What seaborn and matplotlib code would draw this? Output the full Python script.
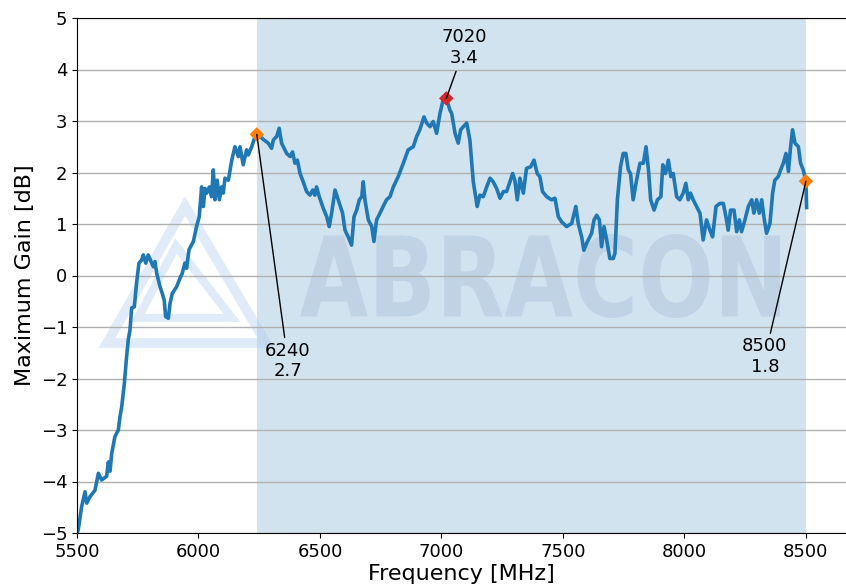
import matplotlib
matplotlib.use("Agg")
import matplotlib.pyplot as plt
import numpy as np
import seaborn as sns
from matplotlib.font_manager import FontProperties
from matplotlib.patches import PathPatch, Polygon
from matplotlib.textpath import TextPath
from matplotlib.transforms import Affine2D

freq_mhz = [
    5500, 5505, 5519, 5533, 5540, 5553, 5574, 5588, 5601, 5622, 5629, 5636, 5643,
    5656, 5670, 5677, 5684, 5695, 5704, 5711, 5718, 5725, 5736, 5745, 5755, 5766,
    5773, 5783, 5793, 5805, 5814, 5821, 5828, 5842, 5851, 5859, 5865, 5876, 5883,
    5892, 5910, 5924, 5933, 5944, 5951, 5961, 5979, 5992, 6003, 6013, 6020, 6027,
    6034, 6045, 6054, 6061, 6068, 6077, 6086, 6095, 6102, 6109, 6123, 6137, 6150,
    6164, 6171, 6184, 6198, 6205, 6219, 6233, 6240, 6253, 6270, 6287, 6301, 6308,
    6322, 6332, 6342, 6363, 6377, 6387, 6397, 6407, 6418, 6431, 6445, 6459, 6470,
    6479, 6486, 6497, 6514, 6528, 6538, 6548, 6562, 6571, 6582, 6593, 6603, 6616,
    6630, 6640, 6651, 6662, 6672, 6678, 6685, 6699, 6713, 6722, 6733, 6747, 6760,
    6774, 6788, 6802, 6822, 6843, 6863, 6884, 6898, 6911, 6928, 6939, 6953, 6966,
    6980, 6994, 7007, 7020, 7035, 7042, 7056, 7069, 7079, 7090, 7104, 7117, 7131,
    7147, 7158, 7172, 7186, 7200, 7213, 7227, 7241, 7255, 7268, 7282, 7293, 7302,
    7312, 7323, 7337, 7350, 7367, 7381, 7394, 7405, 7416, 7433, 7453, 7467, 7481,
    7495, 7515, 7536, 7553, 7563, 7577, 7586, 7597, 7618, 7628, 7639, 7650, 7659,
    7669, 7680, 7693, 7707, 7714, 7724, 7737, 7748, 7759, 7769, 7778, 7789, 7803,
    7817, 7831, 7842, 7852, 7861, 7875, 7889, 7903, 7911, 7922, 7934, 7944, 7954,
    7968, 7981, 7995, 8006, 8016, 8025, 8036, 8050, 8064, 8077, 8091, 8105, 8116,
    8130, 8146, 8160, 8171, 8180, 8190, 8204, 8215, 8226, 8235, 8249, 8263, 8277,
    8286, 8297, 8308, 8318, 8327, 8338, 8352, 8363, 8372, 8386, 8396, 8407, 8418,
    8428, 8437, 8445, 8455, 8469, 8478, 8489, 8500, 8503,
]
gain_db = [
    -5.00, -4.94, -4.49, -4.20, -4.42, -4.30, -4.17, -3.84, -3.97, -3.90, -3.62, -3.80, -3.45,
    -3.13, -3.00, -2.74, -2.55, -2.09, -1.58, -1.25, -1.06, -0.63, -0.61, -0.15, 0.24, 0.30,
    0.40, 0.24, 0.40, 0.27, 0.17, 0.27, 0.04, -0.22, -0.35, -0.48, -0.80, -0.83, -0.54,
    -0.35, -0.22, -0.05, 0.04, 0.24, 0.14, 0.50, 0.66, 0.95, 1.14, 1.72, 1.34, 1.69,
    1.60, 1.72, 1.53, 2.05, 1.47, 1.85, 1.47, 1.72, 1.60, 1.89, 1.85, 2.24, 2.50,
    2.31, 2.50, 2.15, 2.44, 2.34, 2.50, 2.70, 2.74, 2.70, 2.63, 2.57, 2.47, 2.63,
    2.70, 2.86, 2.57, 2.37, 2.31, 2.40, 2.18, 2.24, 1.98, 1.82, 1.63, 1.56, 1.66,
    1.56, 1.72, 1.53, 1.30, 1.14, 0.95, 1.21, 1.66, 1.53, 1.37, 1.21, 0.88, 0.75,
    0.59, 1.14, 1.27, 1.47, 1.53, 1.82, 1.47, 1.08, 0.95, 0.66, 1.08, 1.21, 1.34,
    1.47, 1.53, 1.72, 1.92, 2.18, 2.44, 2.50, 2.70, 2.83, 3.08, 2.96, 2.89, 2.99,
    2.76, 3.15, 3.41, 3.44, 3.21, 3.15, 2.76, 2.57, 2.83, 2.89, 2.96, 2.63, 1.82,
    1.34, 1.56, 1.53, 1.72, 1.89, 1.82, 1.69, 1.50, 1.63, 1.63, 1.82, 1.98, 1.85,
    1.47, 1.89, 1.60, 2.08, 2.11, 2.24, 1.98, 1.92, 1.63, 1.53, 1.47, 1.50, 1.14,
    1.04, 0.95, 1.01, 1.34, 1.01, 0.75, 0.49, 0.62, 0.82, 1.08, 1.17, 1.08, 0.56,
    0.95, 0.69, 0.33, 0.33, 0.43, 1.47, 2.11, 2.37, 2.37, 2.05, 1.98, 1.47, 1.85,
    2.18, 2.18, 2.50, 2.05, 1.47, 1.27, 1.47, 1.53, 2.15, 1.98, 2.24, 1.92, 1.98,
    1.53, 1.47, 1.60, 1.79, 1.47, 1.60, 1.47, 1.34, 1.21, 0.69, 1.08, 0.88, 0.75,
    1.34, 1.40, 1.40, 1.14, 0.88, 1.27, 1.27, 0.85, 1.08, 0.85, 1.08, 1.34, 1.47,
    1.21, 1.47, 1.21, 1.47, 1.14, 0.82, 1.01, 1.60, 1.85, 1.92, 2.05, 2.18, 2.37,
    2.02, 2.50, 2.83, 2.57, 2.50, 2.18, 2.05, 1.83, 1.32,
]

band_mhz = [6240, 8500]          # shaded operating band
edge_points = [6240, 8500]       # band edges, orange markers
peak_point = [7020]              # maximum gain, red marker
x_ticks = [5500, 6000, 6500, 7000, 7500, 8000, 8500]
y_ticks = [-5, -4, -3, -2, -1, 0, 1, 2, 3, 4, 5]

W, H = 846, 586
fig = plt.figure(figsize=(W / 100, H / 100), dpi=100)
ax = fig.add_axes([77 / W, 53 / H, (W - 77) / W, 515 / H])

freq = np.array(freq_mhz)
gain = np.array(gain_db)

ax.axvspan(band_mhz[0], band_mhz[1], color="tab:blue", alpha=0.2, lw=0, zorder=1)

# watermark: triangle logo + ABRACON lettering (figure pixel coords)
px = Affine2D().scale(1 / W, -1 / H).translate(0, 1) + fig.transFigure
for pts, lw in (([(107, 343), (185, 206), (266, 343)], 7),
                ([(138, 318), (176, 246), (232, 318)], 6)):
    ax.add_patch(Polygon(pts, closed=True, fill=False, ec="#a8c8f0", alpha=0.35,
                         lw=lw, joinstyle="miter", transform=px, zorder=1.2))
tp = TextPath((0, 0), "ABRACON", size=1,
              prop=FontProperties(family="DejaVu Sans", weight="bold"))
ext = tp.get_extents()
x0, x1, yb, yt = 300, 780, 318, 234
tr = (Affine2D().translate(-ext.x0, -ext.y0)
      .scale((x1 - x0) / ext.width, (yb - yt) / ext.height)
      .scale(1, -1).translate(x0, yb) + px)
ax.add_patch(PathPatch(tp, transform=tr, fc="#8fa8c8", ec="none", alpha=0.27, zorder=1.2))

sns.lineplot(x=freq, y=gain, ax=ax, color="tab:blue", lw=2.6, zorder=2)

edge_idx = [int(np.where(freq == f)[0][0]) for f in edge_points]
peak_idx = [int(np.where(freq == f)[0][0]) for f in peak_point]
sns.scatterplot(x=freq[edge_idx], y=gain[edge_idx], ax=ax, marker="D", s=55,
                color="tab:orange", edgecolor="none", zorder=3)
sns.scatterplot(x=freq[peak_idx], y=gain[peak_idx], ax=ax, marker="D", s=55,
                color="tab:red", edgecolor="none", zorder=3)

label_pos = {6240: (6368, -1.66), 7020: (7095, 4.42), 8500: (8331, -1.58)}
for i in edge_idx + peak_idx:
    f, g = freq[i], gain[i]
    ax.annotate(f"{f:.0f}\n{g:.1f}", xy=(f, g), xytext=label_pos[int(f)],
                ha="center", va="center", fontsize=13,
                arrowprops=dict(arrowstyle="-", color="black", lw=1,
                                shrinkA=1, shrinkB=0))

ax.set_xlim(5500, 8665)
ax.set_ylim(-5, 5)
ax.set_xticks(x_ticks)
ax.set_yticks(y_ticks)
ax.tick_params(labelsize=13)
ax.grid(axis="y", color="#b0b0b0", lw=1)
ax.spines["right"].set_visible(False)
ax.set_xlabel("Frequency [MHz]", fontsize=16, labelpad=2)
ax.set_ylabel("Maximum Gain [dB]", fontsize=16)

fig.savefig("out.png", dpi=100)
